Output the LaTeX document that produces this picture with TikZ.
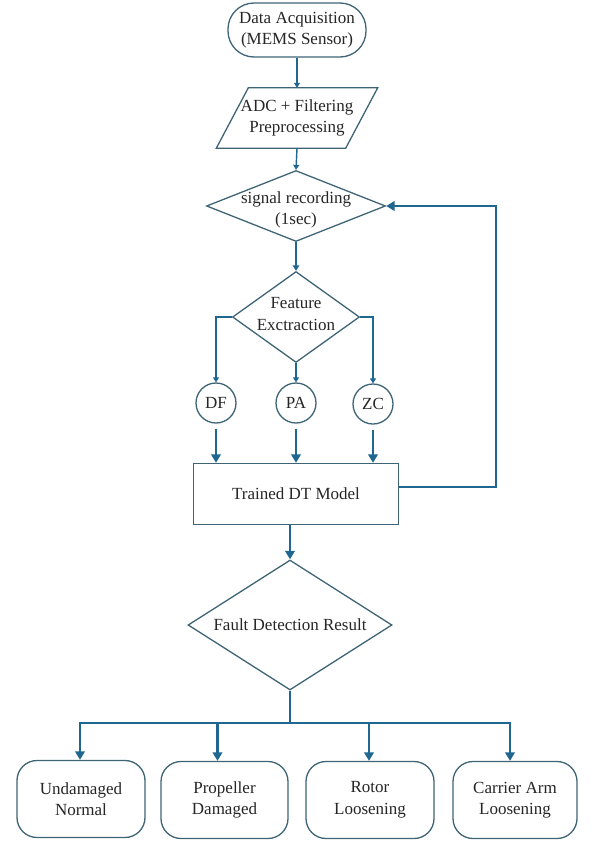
\documentclass[tikz,border=0pt]{standalone}
\usepackage{fontspec}
\setmainfont{Liberation Serif}[Ligatures=TeX]
\usetikzlibrary{shapes.geometric,arrows.meta,calc}
\definecolor{edgec}{HTML}{3F6475}
\definecolor{arrc}{HTML}{1F6690}
\begin{document}
\begin{tikzpicture}[x=1pt,y=-1pt,
  every node/.style={font=\rmfamily\fontsize{17}{21.5}\selectfont, text=black!85},
  shp/.style={draw=edgec, line width=1.3pt, fill=white},
  shpline/.style={draw=edgec, line width=1.3pt},
  arrthick/.style={draw=arrc, line width=2.6pt, -{Triangle[width=9.5pt,length=8.5pt]}},
  arrmid/.style={draw=arrc, line width=1.8pt, -{Triangle[width=6.5pt,length=5.5pt]}},
  arrthin/.style={draw=arrc, line width=1.4pt, -{Triangle[width=6pt,length=5pt]}},
  linethick/.style={draw=arrc, line width=2.6pt},
  termbox/.style={shp, rounded corners=20pt, minimum height=77pt, align=center, inner sep=2pt},
  feat/.style={shp, circle, minimum size=40pt, inner sep=0pt}
]
\useasboundingbox (0,0) rectangle (597,846);

% top terminal
\node[shp, rounded corners=26pt, minimum width=138pt, minimum height=54pt, align=center] (acq) at (297,30) {Data Acquisition\\(MEMS Sensor)};

% parallelogram
\node[minimum width=129pt, minimum height=60pt, inner sep=0pt, align=center] (adc) at (297,118) {ADC + Filtering\\Preprocessing};
\draw[shpline] ([xshift=-16pt]adc.south west) -- ([xshift=16pt]adc.north west) -- ([xshift=16pt]adc.north east) -- ([xshift=-16pt]adc.south east) -- cycle;

% signal recording diamond
\node[shp, diamond, minimum width=179pt, minimum height=71pt, inner sep=0pt] (sig) at (296,206) {};
\node[align=center, inner sep=0pt] (sigt) at ([yshift=-4pt]sig.center) {signal recording\\(1sec)};

% feature extraction diamond
\node[shp, diamond, minimum width=127pt, minimum height=91pt, inner sep=0pt] (fe) at (296,317) {};
\node[align=center, inner sep=0pt] (fet) at ([yshift=3pt]fe.center) {Feature\\Exctraction};

% feature circles
\node[feat] (df) at (216,403) {DF};
\node[feat] (pa) at (296,403) {PA};
\node[feat] (zc) at (373,404) {ZC};

% trained model
\node[shp, minimum width=205pt, minimum height=61pt] (dt) at (296,494) {Trained DT Model};

% fault diamond
\node[shp, diamond, minimum width=204pt, minimum height=130pt, inner sep=0pt] (fault) at (290,625) {};
\node[inner sep=0pt] (faultt) at (fault.center) {Fault Detection Result};

% result boxes
\node[termbox, minimum width=128pt] (b1) at (81,799) {Undamaged\\Normal};
\node[termbox, minimum width=127pt] (b2) at (224.5,800) {Propeller\\Damaged};
\node[termbox, minimum width=128pt] (b3) at (370,800) {Rotor\\Loosening};
\node[termbox, minimum width=124pt] (b4) at (515,800) {Carrier Arm\\Loosening};

% connectors
\draw[arrthin] (acq.south) -- (adc.north);
\draw[arrthin] (adc.south) -- (sig.north);
\draw[arrmid] (sig.south) -- (fe.north);
\draw[arrthin] (fe.west) -| (df.north);
\draw[arrthin] (fe.south) -- (pa.north);
\draw[arrthin] (fe.east) -| (zc.north);
\draw[arrthick, shorten <=5pt] (df.south) -- (df.south |- dt.north);
\draw[arrthick, shorten <=5pt] (pa.south) -- (pa.south |- dt.north);
\draw[arrthick, shorten <=5pt] (zc.south) -- (zc.south |- dt.north);
\draw[arrthick] ([yshift=7pt]dt.east) -- ++(97,0) |- (sig.east);
\draw[arrthick] (dt.south -| fault.north) -- (fault.north);

\coordinate (split) at (290,723);
\draw[linethick] (fault.south) -- (split);
\draw[arrthick] (split) -| ([xshift=-1pt]b1.north);
\draw[arrthick] (split) -| ([xshift=-7pt]b2.north);
\draw[arrthick] (split) -| ([xshift=-1pt]b3.north);
\draw[arrthick] (split) -| ([xshift=-5pt]b4.north);
\end{tikzpicture}
\end{document}
